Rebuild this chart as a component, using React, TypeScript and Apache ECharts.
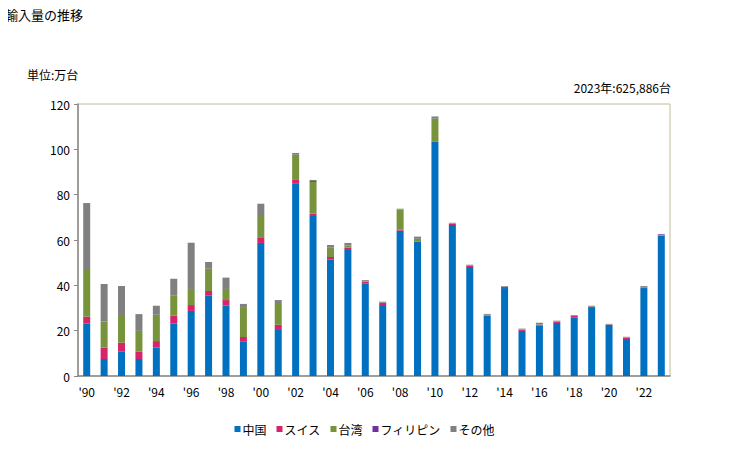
import React, { useEffect, useRef } from "react";
import * as echarts from "echarts";

const categories = [
  "'90", "'91", "'92", "'93", "'94", "'95", "'96", "'97", "'98", "'99",
  "'00", "'01", "'02", "'03", "'04", "'05", "'06", "'07", "'08", "'09",
  "'10", "'11", "'12", "'13", "'14", "'15", "'16", "'17", "'18", "'19",
  "'20", "'21", "'22", "'23",
];

const china = [
  23.2, 7.5, 10.7, 7.5, 12.5, 23.2, 28.7, 35.4, 31.0, 15.1,
  58.7, 20.7, 85.0, 70.6, 51.3, 56.0, 40.7, 31.3, 64.1, 59.1,
  103.2, 66.6, 48.1, 26.5, 38.8, 19.9, 22.2, 23.4, 25.9, 30.4,
  22.5, 16.3, 38.8, 61.9,
];
const swiss = [
  3.0, 5.0, 4.0, 3.2, 2.9, 3.4, 2.6, 2.1, 2.5, 2.1,
  2.2, 1.9, 1.5, 1.0, 1.2, 0.6, 0.9, 1.0, 0.4, 0.1,
  0.1, 0.6, 0.6, 0.1, 0.5, 0.5, 0.4, 0.6, 0.6, 0.1,
  0.1, 0.6, 0.1, 0.2,
];
const taiwan = [
  21.0, 11.5, 12.2, 9.2, 11.6, 8.8, 7.1, 9.8, 4.9, 13.2,
  9.7, 9.6, 11.0, 14.0, 4.3, 1.0, 0.2, 0.1, 8.9, 1.3,
  10.2, 0.1, 0.1, 0.4, 0.1, 0.1, 0.1, 0.1, 0.1, 0.1,
  0.1, 0.1, 0.4, 0.1,
];
const philippines = [
  0, 0, 0, 0, 0, 0, 0, 0, 0, 0,
  0, 0, 0.1, 0.4, 0, 0, 0, 0, 0, 0,
  0, 0, 0, 0, 0, 0, 0, 0, 0, 0,
  0, 0, 0, 0.3,
];
const others = [
  29.1, 16.6, 12.8, 7.4, 4.0, 7.5, 20.4, 3.0, 5.0, 1.4,
  5.4, 1.3, 0.8, 0.5, 1.0, 1.1, 0.5, 0.4, 0.4, 1.0,
  1.0, 0.3, 0.3, 0.4, 0.3, 0.4, 0.8, 0.3, 0.3, 0.4,
  0.3, 0.3, 0.4, 0.1,
];

const seriesNames = ["中国", "スイス", "台湾", "フィリピン", "その他"];
const seriesColors = ["#0070c0", "#d6246b", "#77933c", "#7030a0", "#808080"];
const seriesData = [china, swiss, taiwan, philippines, others];

const FONT = "'Noto Sans CJK JP', sans-serif";

export default function App() {
  const ref = useRef<HTMLDivElement>(null);
  useEffect(() => {
    if (!ref.current) return;
    const chart = echarts.init(ref.current, undefined, { renderer: "svg" });
    chart.setOption({
      animation: false,
      backgroundColor: "#ffffff",
      textStyle: { fontFamily: FONT },
      title: [
        {
          text: "輸入量の推移",
          left: 0,
          top: 3,
          textStyle: { fontSize: 13, fontWeight: "normal", color: "#000", fontFamily: FONT },
        },
        {
          text: "単位:万台",
          left: 22,
          top: 63,
          textStyle: { fontSize: 12, fontWeight: "normal", color: "#000", fontFamily: FONT },
        },
        {
          text: "2023年:625,886台",
          right: 53,
          top: 76,
          textStyle: { fontSize: 12, fontWeight: "normal", color: "#000", fontFamily: FONT },
        },
      ],
      legend: {
        bottom: 10,
        left: "center",
        icon: "rect",
        itemWidth: 6,
        itemHeight: 6,
        itemGap: 10,
        textStyle: { fontSize: 12, color: "#000", fontFamily: FONT, padding: [0, 0, 0, -3] },
        data: seriesNames,
      },
      grid: {
        left: 78,
        right: 59,
        top: 104,
        bottom: 74,
        show: true,
        borderColor: "#c4bc98",
        borderWidth: 1,
      },
      xAxis: {
        type: "category",
        data: categories,
        axisLine: { lineStyle: { color: "#888888", width: 1.5 } },
        axisTick: { show: false },
        axisLabel: { interval: 1, color: "#000", fontSize: 12, margin: 9, fontFamily: FONT },
      },
      yAxis: {
        type: "value",
        min: 0,
        max: 120,
        interval: 20,
        axisLine: { show: true, lineStyle: { color: "#888888", width: 1.5 } },
        axisTick: { show: true, length: 4, lineStyle: { color: "#888888" } },
        splitLine: { show: false },
        axisLabel: { color: "#000", fontSize: 12, margin: 8, fontFamily: FONT },
      },
      series: seriesNames.map((name, i) => ({
        name,
        type: "bar",
        stack: "total",
        barWidth: 7,
        data: seriesData[i],
        itemStyle: { color: seriesColors[i] },
      })),
    });
    return () => chart.dispose();
  }, []);
  return <div ref={ref} style={{ width: 729, height: 450, margin: -8 }} />;
}
